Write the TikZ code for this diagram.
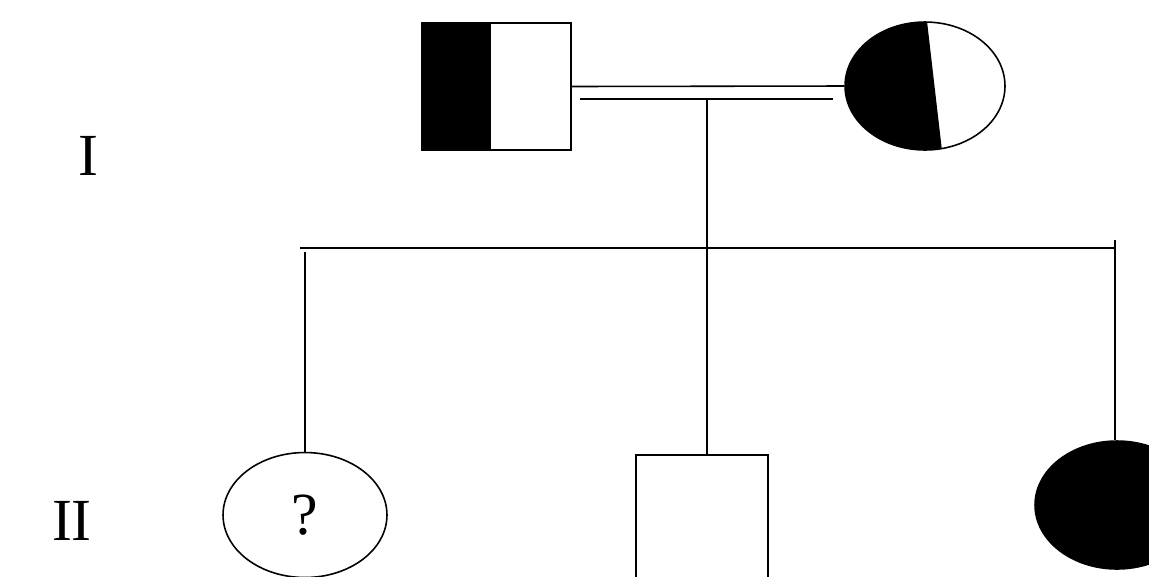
\documentclass[tikz,border=0pt]{standalone}
\usepackage{fontspec}
\setmainfont{Liberation Serif}
\usetikzlibrary{positioning, shapes.geometric, calc}

\begin{document}
\begin{tikzpicture}[
  x=0.02cm, y=-0.02cm,
  line width=0.9pt,
  every node/.style={font=\fontsize{34}{40}\selectfont},
  male/.style={rectangle, draw, inner sep=0pt, minimum width=2.98cm, minimum height=2.54cm},
  female/.style={ellipse, draw, inner sep=0pt, minimum width=3.28cm, minimum height=2.5cm},
  gen/.style={inner sep=0pt},
]
\useasboundingbox (0,0) rectangle (1149,576);
\clip (0,0) rectangle (1149,576);

% generation I
\node[male] (fa) at (496.5,86.5) {};
\node[female, minimum width=3.2cm, minimum height=2.56cm] (mo) at (925,86) {};
\fill (fa.south west) rectangle ($(fa.north west)+(1.4cm,0)$);
\begin{scope}
  \clip (mo.center) ellipse [x radius=1.6cm, y radius=1.28cm];
  \fill (mo.north -| mo.west) -- ($(mo.north)+(0.04cm,0)$) -- ($(mo.south)+(0.34cm,0)$) -- (mo.south -| mo.west) -- cycle;
\end{scope}

% generation II
\node[female] (c1) at (305,515) {?};
\node[male, minimum width=2.64cm, minimum height=3cm] (c2) at (702,530) {};
\node[female, fill=black, minimum height=2.56cm] (c3) at (1117,505) {};

\node[gen] (gI) at (88,156) {I};
\node[gen] (gII) at (72,521) {II};

% marriage and sibship lines
\coordinate (mL) at (580,99);
\coordinate (mR) at (833,99);
\coordinate (drop) at (707,99);
\coordinate (sibL) at (300,248);
\coordinate (sibM) at (707,248);
\coordinate (sibR) at (1115,248);
\coordinate (s1) at (305,252);
\coordinate (s3) at (1115,240);

\draw (fa.east) -- (mo.west);
\draw (mL) -- (mR);
\draw (drop) -- (sibM);
\draw (sibL) -- (sibR);
\draw (s1) -- (c1.north);
\draw (sibM) -- (sibM |- c2.north);
\draw (s3) -- (s3 |- c3.north);

\end{tikzpicture}
\end{document}
